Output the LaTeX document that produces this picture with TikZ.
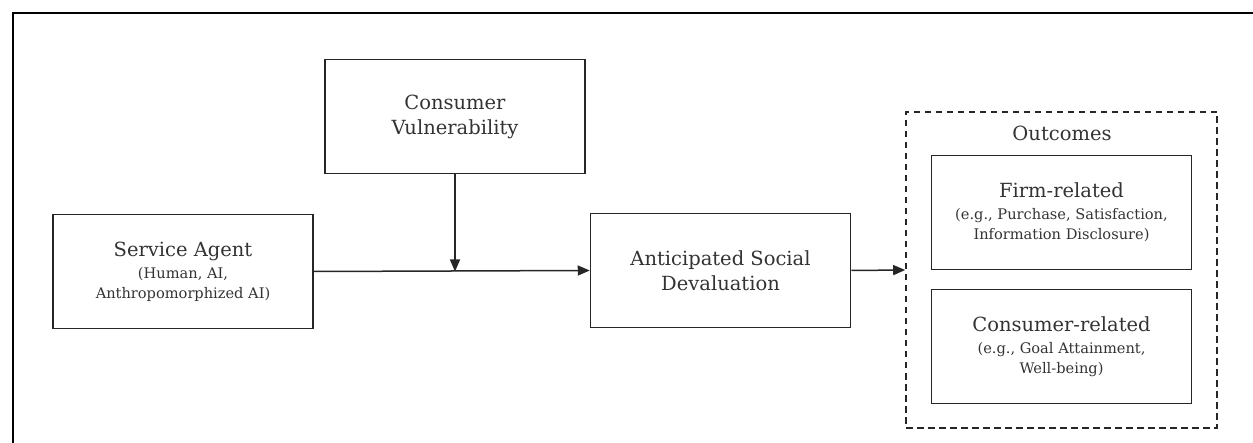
\documentclass[tikz,border=0pt]{standalone}
\usepackage{fontspec}
\setmainfont{DejaVu Serif}
\usetikzlibrary{arrows.meta,positioning}
\newcommand\mainsz{\fontsize{19.5}{25}\selectfont}
\newcommand\subsz{\fontsize{14.6}{20}\selectfont}

\begin{document}
\begin{tikzpicture}[x=1pt,y=-1pt,>={Triangle[length=12pt,width=10pt]},
	box/.style={draw=black!85,line width=1.5pt,minimum width=260pt,minimum height=114pt,
		inner sep=0pt,align=center,text=black!80,font=\mainsz},
	link/.style={->,line width=1.5pt,draw=black!85}]
	\useasboundingbox (0,0) rectangle (1253,443);
	\draw[line width=2.5pt](13,443)--(13,13)--(1253,13);
	\node[box] (cv) at (455,116.5) {Consumer\\Vulnerability};
	\node[box] (sa) at (183,271.5) {Service Agent\\[-3pt]\subsz (Human, AI,\\[-5pt]\subsz Anthropomorphized AI)};
	\node[box] (asd) at (720.5,270.5) {Anticipated Social\\Devaluation};
	\node[draw=black!85,line width=1.6pt,dash pattern=on 6.5pt off 4.5pt,minimum width=311pt,
		minimum height=316pt,inner sep=0pt] (out) at (1061.5,270) {};
	\node[text=black!80,font=\mainsz] (outlbl) at (1062,133) {Outcomes};
	\node[box] (firm) at (1061.5,212.5) {Firm-related\\[-3pt]\subsz (e.g., Purchase, Satisfaction,\\[-5pt]\subsz Information Disclosure)};
	\node[box] (cons) at (1061.5,346.5) {Consumer-related\\[-3pt]\subsz (e.g., Goal Attainment,\\[-5pt]\subsz Well-being)};
	\coordinate (join) at (sa.east -| cv.south);
	\draw[link](sa.east)--(asd.west);
	\draw[link](cv.south)--(join);
	\draw[link](asd.east)--(out.west);
\end{tikzpicture}
\end{document}
